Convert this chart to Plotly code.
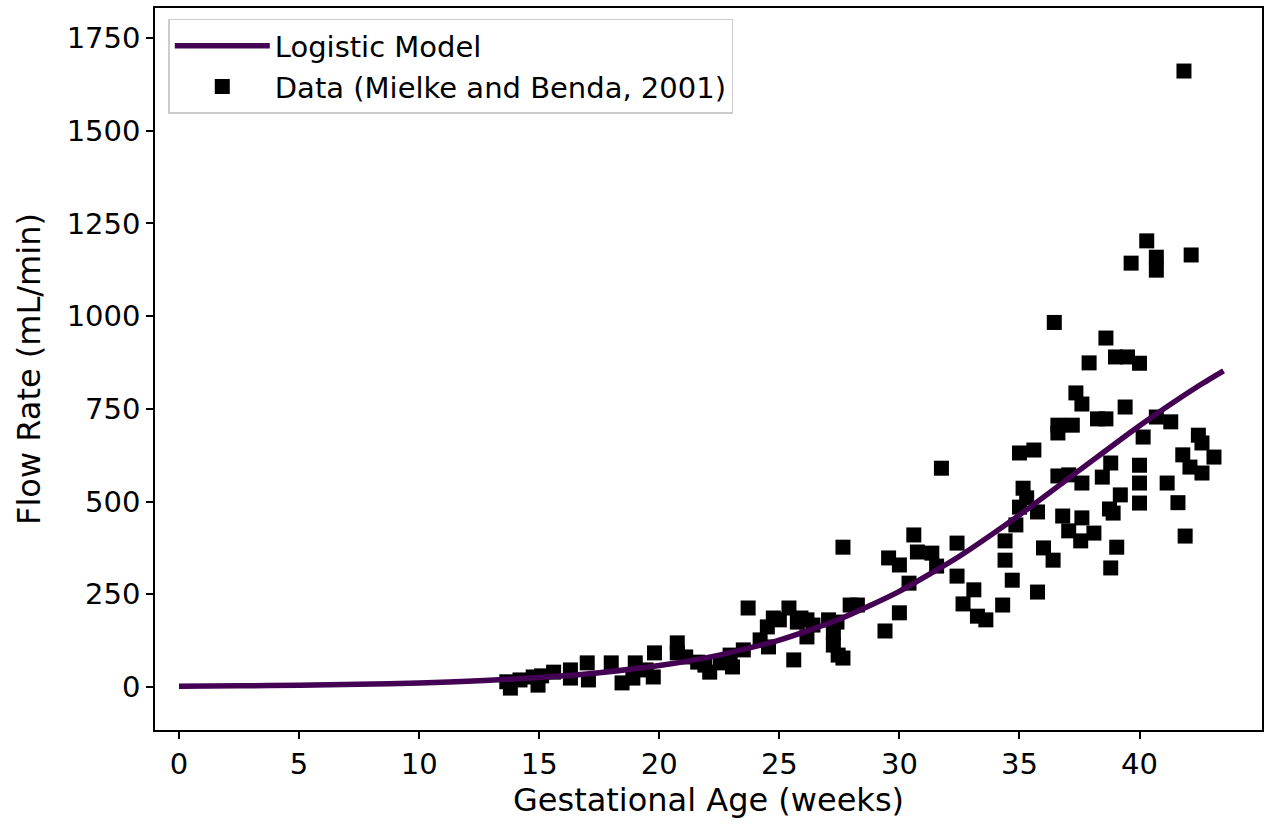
import plotly.graph_objects as go

# Measured umbilical flow vs gestational age
age_weeks = [
    13.65, 13.8, 14.2, 14.75, 15.1, 14.95, 15.6, 16.3, 16.3, 17.0,
    17.05, 18.0, 18.45, 19.0, 18.9, 19.45, 19.8, 19.75, 20.75, 20.75,
    21.1, 21.6, 21.9, 22.1, 22.55, 22.95, 23.05, 23.5, 23.7, 24.5,
    24.2, 24.55, 24.75, 25.0, 25.4, 25.6, 25.75, 25.9, 26.15, 26.4,
    26.15, 27.05, 27.4, 27.25, 27.25, 27.45, 27.65, 27.65, 27.95, 28.25,
    29.4, 29.55, 30.0, 30.4, 30.0, 30.6, 30.75, 31.35, 31.55, 31.75,
    32.4, 32.4, 32.65, 33.1, 33.25, 33.6, 34.3, 34.4, 34.4, 34.7,
    34.85, 35.0, 35.15, 35.3, 35.0, 35.6, 35.75, 35.75, 36.0, 36.4,
    36.45, 36.6, 36.6, 37.2, 36.6, 37.05, 36.8, 37.05, 37.6, 37.55,
    38.1, 37.6, 37.35, 37.6, 37.9, 38.25, 38.6, 38.6, 39.0, 39.5,
    40.0, 39.4, 38.8, 38.45, 38.75, 39.2, 38.9, 39.05, 38.8, 39.65,
    40.3, 40.7, 40.7, 42.15, 41.85, 40.15, 40.0, 40.0, 40.0, 40.7,
    41.3, 41.15, 41.6, 41.9, 41.8, 42.45, 42.6, 43.1, 42.1, 42.6,
]
flow_ml_min = [
    14, -3, 19, 27, 30, 5, 40, 46, 24, 65,
    19, 65, 11, 65, 24, 46, 92, 27, 119, 92,
    81, 67, 59, 40, 65, 86, 54, 100, 213, 162,
    127, 108, 186, 181, 213, 73, 175, 186, 181, 167,
    135, 181, 175, 146, 113, 86, 78, 377, 221, 221,
    151, 348, 329, 280, 200, 410, 364, 361, 326, 590,
    388, 299, 224, 262, 191, 181, 221, 394, 342, 288,
    437, 485, 536, 510, 631, 639, 472, 256, 375, 342,
    983, 706, 685, 706, 569, 572, 461, 421, 456, 394,
    415, 550, 793, 763, 874, 723, 723, 941, 890, 890,
    873, 755, 604, 566, 480, 518, 469, 377, 321, 1143,
    1203, 1159, 1124, 1165, 1661, 674, 598, 550, 496, 728,
    715, 550, 497, 407, 626, 679, 658, 620, 593, 577,
]

# Fitted logistic curve, sampled along the age axis
model_age = [0, 2.5, 5, 7.5, 10, 12.5, 15, 17.5, 20, 22.5,
             25, 27.5, 30, 32.5, 35, 37.5, 40, 42.5, 43.5]
model_flow = [2.0, 3.1, 4.7, 7.2, 11.0, 16.7, 25.4, 38.4, 57.7, 86.0,
              126.5, 182.8, 257.9, 352.6, 464.0, 584.7, 704.7, 813.8, 852.7]

x_ticks = [0, 5, 10, 15, 20, 25, 30, 35, 40]
y_ticks = [0, 250, 500, 750, 1000, 1250, 1500, 1750]

FONT = "DejaVu Sans"
TICK_FS = 29
LABEL_FS = 32
LEGEND_FS = 29
LINE_COLOR = "#440154"

fig = go.Figure()

fig.add_trace(go.Scatter(
    x=age_weeks, y=flow_ml_min,
    mode="markers",
    name="Data (Mielke and Benda, 2001)",
    marker=dict(symbol="square", size=15, color="black", line=dict(width=0)),
    legendrank=2,
))

fig.add_trace(go.Scatter(
    x=model_age, y=model_flow,
    mode="lines",
    name="Logistic Model",
    line=dict(color=LINE_COLOR, width=5.5, shape="spline", smoothing=0.6),
    legendrank=1,
))

axis_common = dict(
    showline=True, linecolor="black", linewidth=1.5, mirror=True,
    ticks="outside", ticklen=7, tickwidth=1.5, tickcolor="black",
    showgrid=False, zeroline=False,
    tickfont=dict(family=FONT, size=TICK_FS, color="black"),
    automargin=False,
)

fig.update_layout(
    width=1277, height=824,
    paper_bgcolor="white", plot_bgcolor="white",
    margin=dict(l=155, r=15, t=8, b=94),
    font=dict(family=FONT, size=TICK_FS, color="black"),
    xaxis=dict(
        range=[-1, 45.1], tickvals=x_ticks,
        title=dict(text="Gestational Age (weeks)", font=dict(family=FONT, size=LABEL_FS), standoff=9),
        **axis_common,
    ),
    yaxis=dict(
        range=[-116, 1831], tickvals=y_ticks,
        title=dict(text="Flow Rate (mL/min)", font=dict(family=FONT, size=LABEL_FS), standoff=16),
        **axis_common,
    ),
    legend=dict(
        x=0.012, y=0.985, xanchor="left", yanchor="top",
        bgcolor="rgba(255,255,255,0.8)", bordercolor="#cccccc", borderwidth=1.5,
        font=dict(family=FONT, size=LEGEND_FS, color="black"),
        itemwidth=95, tracegroupgap=6,
    ),
    showlegend=True,
)

fig.write_html("out.html")
